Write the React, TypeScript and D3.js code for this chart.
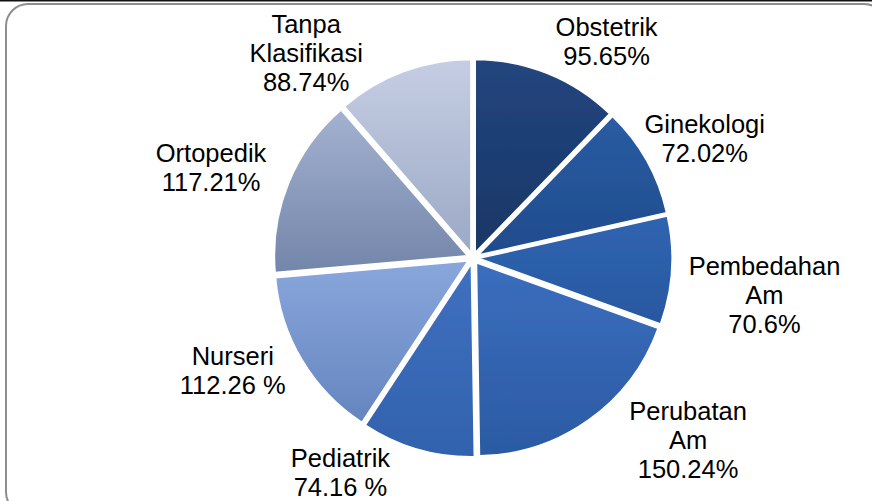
import * as d3 from 'd3';

// data
const categories = [
  'Obstetrik',
  'Ginekologi',
  'Pembedahan Am',
  'Perubatan Am',
  'Pediatrik',
  'Nurseri',
  'Ortopedik',
  'Tanpa Klasifikasi',
];
const values = [95.65, 72.02, 70.6, 150.24, 74.16, 112.26, 117.21, 88.74];
const valueLabels = ['95.65%', '72.02%', '70.6%', '150.24%', '74.16 %', '112.26 %', '117.21%', '88.74%'];
const nameLines = [
  ['Obstetrik'],
  ['Ginekologi'],
  ['Pembedahan', 'Am'],
  ['Perubatan', 'Am'],
  ['Pediatrik'],
  ['Nurseri'],
  ['Ortopedik'],
  ['Tanpa', 'Klasifikasi'],
];

// styling / layout
const topColors = ['#22457f', '#2a5ca3', '#2f64b0', '#3b6ebe', '#3f70c0', '#89a7dc', '#a4b2d0', '#c5cee3'];
const bottomColors = ['#1a3766', '#1f4b8c', '#2858a1', '#2b5aa3', '#3262ad', '#6585bf', '#7385aa', '#9ca9c5'];
// Excel labels were placed by hand, so nudge them off the label arc
const labelNudge = [
  [36, 24],
  [5, 8],
  [32, 21],
  [64, -30],
  [-60, -35],
  [-17, -21],
  [-21, 7],
  [-76, 39],
];

const width = 872,
  height = 501;
const cx = 473,
  cy = 258;
const radius = 193;
const explode = 6;
const fontSize = 25.5;
const lineHeight = 29;

export default function App() {
  const pie = d3
    .pie<number>()
    .value((d) => d)
    .sort(null);
  const arcs = pie(values);

  const arc = d3.arc<d3.PieArcDatum<number>>().innerRadius(0).outerRadius(radius);
  const labelArc = d3.arc<d3.PieArcDatum<number>>().innerRadius(260).outerRadius(260);

  return (
    <svg
      xmlns="http://www.w3.org/2000/svg"
      width={width}
      height={height}
      viewBox={`0 0 ${width} ${height}`}
      style={{ position: 'absolute', left: 0, top: 0, background: '#fff' }}
    >
      <defs>
        {arcs.map((d, i) => (
          <linearGradient key={i} id={`g${i}`} x1="0" y1="0" x2="0" y2="1">
            <stop offset="0%" stopColor={topColors[i]} />
            <stop offset="100%" stopColor={bottomColors[i]} />
          </linearGradient>
        ))}
        <filter id="soft" x="-10%" y="-10%" width="120%" height="120%">
          <feGaussianBlur stdDeviation="0.6" />
        </filter>
      </defs>

      {/* frame */}
      <rect x={0} y={0} width={width} height={1.5} fill="#111" />
      <rect
        x={6}
        y={4}
        width={880}
        height={510}
        rx={22}
        ry={22}
        fill="none"
        stroke="#8e8e8e"
        strokeWidth={2}
      />

      <g transform={`translate(${cx},${cy})`}>
        {arcs.map((d, i) => {
          const mid = (d.startAngle + d.endAngle) / 2;
          const dx = Math.sin(mid) * explode;
          const dy = -Math.cos(mid) * explode;
          return (
            <path
              key={categories[i]}
              d={arc(d) || ''}
              transform={`translate(${dx},${dy})`}
              fill={`url(#g${i})`}
              stroke="#fff"
              strokeWidth={1.5}
              strokeLinejoin="round"
              filter="url(#soft)"
            />
          );
        })}

        {arcs.map((d, i) => {
          const [lx, ly] = labelArc.centroid(d);
          const lines = [...nameLines[i], valueLabels[i]];
          const x = lx + labelNudge[i][0];
          const centerY = ly + labelNudge[i][1];
          const firstBaseline = centerY - ((lines.length - 1) * lineHeight) / 2 + 9;
          return (
            <text
              key={`l${i}`}
              x={x}
              y={firstBaseline}
              textAnchor="middle"
              fontFamily="'Liberation Sans', Arial, sans-serif"
              fontSize={fontSize}
              fill="#000"
            >
              {lines.map((t, j) => (
                <tspan key={j} x={x} dy={j === 0 ? 0 : lineHeight}>
                  {t}
                </tspan>
              ))}
            </text>
          );
        })}
      </g>
    </svg>
  );
}
